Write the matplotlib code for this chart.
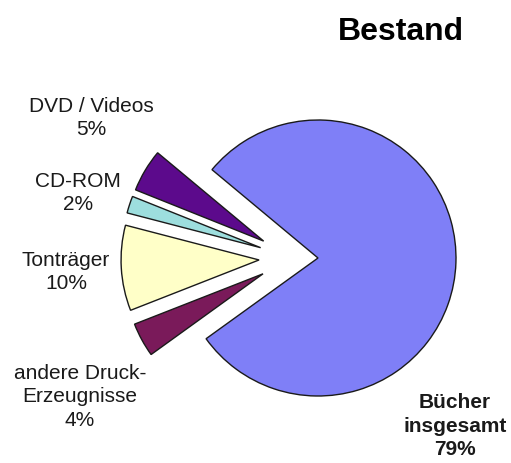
import matplotlib
matplotlib.use("Agg")
import matplotlib.pyplot as plt

plt.rcParams['font.family'] = ['Liberation Sans', 'DejaVu Sans']

# Bestand data (percent)
categories = ["DVD / Videos", "CD-ROM", "Tonträger", "andere Druck-\nErzeugnisse", "Bücher\ninsgesamt"]
values = [5, 2, 10, 4, 79]
colors = ["#5c0a8c", "#9ddede", "#ffffc8", "#7a1a5a", "#7f7ff7"]
explode = [33, 33, 33, 33, 0]

fig = plt.figure(figsize=(5.11, 4.63), dpi=100)
ax = fig.add_axes([0, 0, 1, 1])

wedges, _ = ax.pie(values, explode=explode, colors=colors, startangle=140.2,
                   radius=138, center=(318, 205), frame=True,
                   wedgeprops=dict(edgecolor='#1a1a1a', linewidth=1))
ax.set_xlim(0, 511)
ax.set_ylim(0, 463)
ax.set_aspect('equal')
ax.axis('off')

# the small slices are pulled out further to the left
for w in wedges[:4]:
    cx, cy = w.center
    w.set_center((cx - 26, cy))

# label positions
label_pos = [(91, 345), (78, 270), (66, 191), (80, 66), (455, 37)]
for name, val, (lx, ly) in zip(categories, values, label_pos):
    weight = 'bold' if val == max(values) else 'normal'
    ax.text(lx, ly, f"{name}\n{val}%", ha='center', va='center',
            fontsize=15, fontweight=weight, color='#1a1a1a', linespacing=1.3)

ax.text(401, 431, "Bestand", ha='center', va='center', fontsize=23,
        fontweight='bold', color='black')

fig.savefig("out.png", dpi=100)
